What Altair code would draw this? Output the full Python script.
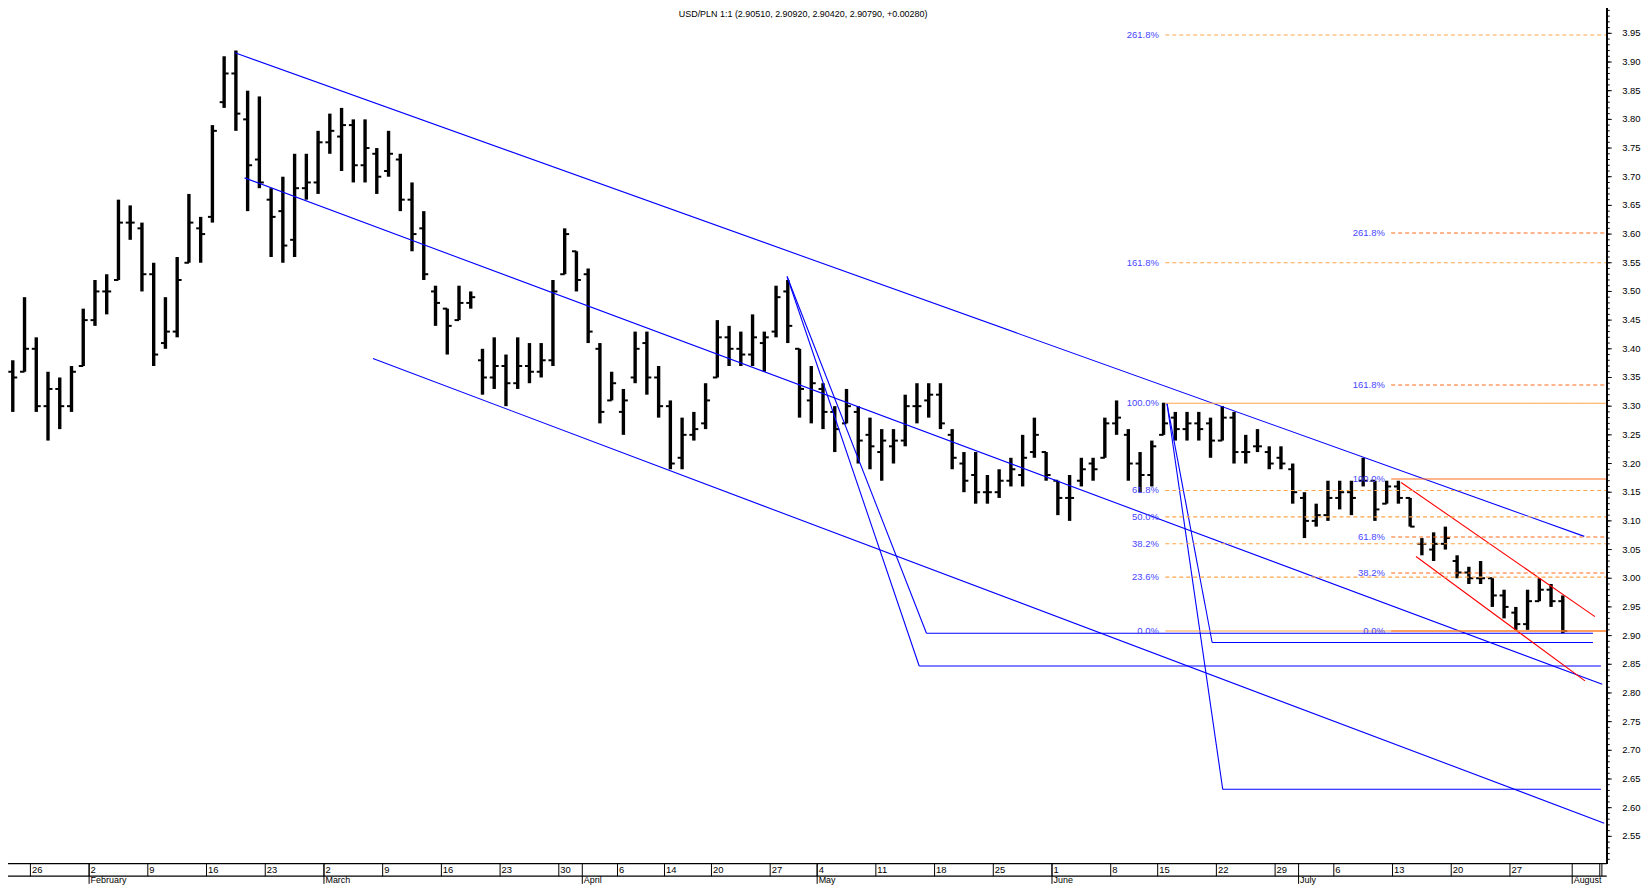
import altair as alt
import pandas as pd

# ---------------- data ----------------
# trading-day index (0 = 26 January), daily open/high/low/close of USD/PLN
day_index = list(range(-2, 131))
opens = [3.36, 3.36, 3.40, 3.30, 3.33, 3.30, 3.37, 3.45, 3.50, 3.52,
         3.62, 3.61, 3.53, 3.41, 3.43, 3.55, 3.61, 3.63, 3.83, 3.88,
         3.80, 3.73, 3.66, 3.64, 3.59, 3.68, 3.69, 3.76, 3.77, 3.79,
         3.72, 3.74, 3.71, 3.73, 3.66, 3.61, 3.50, 3.47, 3.45, 3.48,
         3.38, 3.35, 3.37, 3.34, 3.37, 3.36, 3.38, 3.53, 3.57, 3.53,
         3.40, 3.31, 3.29, 3.35, 3.41, 3.35, 3.30, 3.21, 3.25, 3.27,
         3.35, 3.42, 3.40, 3.39, 3.41, 3.43, 3.50, 3.40, 3.31, 3.33,
         3.29, 3.27, 3.29, 3.25, 3.22, 3.23, 3.24, 3.30, 3.31, 3.32,
         3.25, 3.20, 3.18, 3.15, 3.15, 3.17, 3.18, 3.22, 3.22, 3.17,
         3.14, 3.17, 3.20, 3.21, 3.27, 3.25, 3.20, 3.18, 3.25, 3.28,
         3.26, 3.27, 3.27, 3.24, 3.28, 3.22, 3.23, 3.22, 3.21, 3.19,
         3.14, 3.10, 3.11, 3.14, 3.15, 3.17, 3.17, 3.13, 3.16, 3.14,
         3.06, 3.05, 3.06, 3.03, 3.01, 3.00, 3.00, 2.97, 2.94, 2.92,
         2.96, 2.98, 2.96]
highs = [3.38, 3.49, 3.42, 3.36, 3.35, 3.37, 3.47, 3.52, 3.53, 3.66,
         3.65, 3.62, 3.55, 3.49, 3.56, 3.67, 3.63, 3.79, 3.91, 3.92,
         3.85, 3.84, 3.68, 3.70, 3.74, 3.74, 3.78, 3.81, 3.82, 3.80,
         3.80, 3.75, 3.78, 3.74, 3.69, 3.64, 3.51, 3.47, 3.51, 3.50,
         3.40, 3.42, 3.39, 3.42, 3.41, 3.41, 3.52, 3.61, 3.57, 3.54,
         3.41, 3.36, 3.33, 3.43, 3.43, 3.37, 3.31, 3.28, 3.29, 3.34,
         3.45, 3.44, 3.43, 3.46, 3.43, 3.51, 3.52, 3.40, 3.37, 3.34,
         3.30, 3.33, 3.30, 3.28, 3.26, 3.26, 3.32, 3.34, 3.34, 3.34,
         3.26, 3.22, 3.22, 3.18, 3.19, 3.21, 3.25, 3.28, 3.22, 3.17,
         3.18, 3.21, 3.21, 3.28, 3.31, 3.26, 3.22, 3.24, 3.306, 3.29,
         3.29, 3.29, 3.28, 3.30, 3.29, 3.25, 3.26, 3.23, 3.23, 3.20,
         3.15, 3.13, 3.17, 3.17, 3.17, 3.21, 3.17, 3.17, 3.17, 3.14,
         3.07, 3.08, 3.09, 3.04, 3.02, 3.03, 3.00, 2.98, 2.95, 2.98,
         3.00, 2.99, 2.97]
lows = [3.29, 3.36, 3.29, 3.24, 3.26, 3.29, 3.37, 3.44, 3.46, 3.52,
        3.59, 3.50, 3.37, 3.40, 3.42, 3.55, 3.55, 3.62, 3.82, 3.78,
        3.64, 3.68, 3.56, 3.55, 3.56, 3.66, 3.67, 3.74, 3.71, 3.69,
        3.69, 3.67, 3.70, 3.64, 3.57, 3.52, 3.44, 3.39, 3.45, 3.47,
        3.32, 3.33, 3.30, 3.33, 3.34, 3.35, 3.37, 3.53, 3.50, 3.41,
        3.27, 3.31, 3.25, 3.34, 3.32, 3.28, 3.19, 3.19, 3.24, 3.26,
        3.35, 3.37, 3.37, 3.37, 3.36, 3.42, 3.41, 3.28, 3.27, 3.26,
        3.22, 3.27, 3.20, 3.19, 3.17, 3.20, 3.23, 3.27, 3.28, 3.26,
        3.19, 3.15, 3.13, 3.13, 3.14, 3.16, 3.16, 3.21, 3.17, 3.11,
        3.10, 3.16, 3.17, 3.21, 3.25, 3.17, 3.15, 3.16, 3.25, 3.24,
        3.24, 3.24, 3.21, 3.24, 3.20, 3.20, 3.22, 3.19, 3.19, 3.13,
        3.07, 3.09, 3.10, 3.12, 3.11, 3.16, 3.10, 3.13, 3.13, 3.09,
        3.04, 3.03, 3.05, 3.00, 2.99, 2.99, 2.95, 2.93, 2.91, 2.91,
        2.96, 2.95, 2.904]
closes = [3.35, 3.40, 3.30, 3.33, 3.30, 3.36, 3.45, 3.50, 3.50, 3.62,
          3.62, 3.53, 3.39, 3.43, 3.52, 3.62, 3.60, 3.78, 3.88, 3.81,
          3.72, 3.69, 3.63, 3.58, 3.68, 3.69, 3.76, 3.78, 3.79, 3.72,
          3.75, 3.70, 3.74, 3.66, 3.60, 3.53, 3.48, 3.44, 3.48, 3.49,
          3.35, 3.37, 3.34, 3.37, 3.36, 3.38, 3.50, 3.60, 3.52, 3.43,
          3.29, 3.34, 3.31, 3.40, 3.35, 3.30, 3.20, 3.25, 3.26, 3.31,
          3.42, 3.40, 3.39, 3.42, 3.42, 3.49, 3.44, 3.33, 3.34, 3.29,
          3.26, 3.30, 3.24, 3.23, 3.24, 3.24, 3.30, 3.30, 3.32, 3.27,
          3.21, 3.17, 3.15, 3.15, 3.17, 3.19, 3.21, 3.25, 3.18, 3.14,
          3.14, 3.19, 3.19, 3.27, 3.28, 3.20, 3.18, 3.23, 3.27, 3.26,
          3.27, 3.26, 3.24, 3.28, 3.22, 3.22, 3.23, 3.20, 3.20, 3.15,
          3.10, 3.11, 3.14, 3.15, 3.14, 3.17, 3.12, 3.16, 3.14, 3.09,
          3.06, 3.06, 3.07, 3.01, 3.00, 3.00, 2.97, 2.95, 2.92, 2.96,
          2.98, 2.96, 2.908]

# trend lines drawn on the chart: (day index, price) vertices
blue_lines = [
    [(17.42, 3.916), (132.33, 3.073)],                    # upper channel
    [(18.24, 3.698), (133.86, 2.815)],                    # middle channel
    [(29.17, 3.383), (134.03, 2.573)],                    # lower channel
    [(64.44, 3.526), (76.31, 2.904), (133.07, 2.904)],    # projection from April high
    [(64.44, 3.526), (75.69, 2.847), (133.75, 2.847)],
    [(96.79, 3.305), (100.64, 2.888), (133.07, 2.888)],   # projection from June high
    [(96.79, 3.305), (101.54, 2.632), (133.75, 2.632)],
]
red_lines = [
    [(116.73, 3.167), (133.24, 2.933)],
    [(118.00, 3.038), (132.39, 2.821)],
]

# Fibonacci retracement / extension levels
fib_left_labels = ["261.8%", "161.8%", "100.0%", "61.8%", "50.0%", "38.2%", "23.6%", "0.0%"]
fib_left_values = [3.947, 3.550, 3.305, 3.153, 3.107, 3.060, 3.002, 2.908]
fib_left_start = 96.65
fib_right_labels = ["261.8%", "161.8%", "100.0%", "61.8%", "38.2%", "0.0%"]
fib_right_values = [3.602, 3.337, 3.173, 3.072, 3.009, 2.908]
fib_right_start = 115.89
axis_day = 134.25

# axis labels
price_labels = ["3.95", "3.90", "3.85", "3.80", "3.75", "3.70", "3.65", "3.60", "3.55",
                "3.50", "3.45", "3.40", "3.35", "3.30", "3.25", "3.20", "3.15", "3.10",
                "3.05", "3.00", "2.95", "2.90", "2.85", "2.80", "2.75", "2.70", "2.65",
                "2.60", "2.55"]
minor_ticks = [round(2.51 + 0.01 * i, 2) for i in range(149)]
day_tick_pos = [0, 5, 10, 15, 20, 25, 30, 35, 40, 45, 50, 54, 58, 63, 67, 72, 77, 82,
                87, 92, 96, 101, 106, 111, 116, 121, 126, 133.65, 133.83]
day_tick_lab = ["26", "2", "9", "16", "23", "2", "9", "16", "23", "30", "6", "14", "20",
                "27", "4", "11", "18", "25", "1", "8", "15", "22", "29", "6", "13", "20",
                "27", "", ""]
month_pos = [5, 25, 47, 67, 87, 108, 131.3]
month_lab = ["February", "March", "April", "May", "June", "July", "August"]
title_text = "USD/PLN 1:1 (2.90510, 2.90920, 2.90420, 2.90790, +0.00280)"

# ---------------- layout ----------------
W, H = 1642, 878
T0, T1 = -1.9068, 137.245
V_TOP, V_BOT = 3.99042, 2.46718
AX_X = 1606.6      # right price axis (plot px)
BOT_Y = 857.6      # bottom frame line
ROW_Y = 870.3      # line under day numbers
FONT = "Liberation Sans"

xs = alt.Scale(domain=[T0, T1], nice=False, zero=False)
ys = alt.Scale(domain=[V_BOT, V_TOP], nice=False, zero=False)

bars = pd.DataFrame({"t": day_index, "o": opens, "h": highs, "l": lows, "c": closes})

base_bars = alt.Chart(bars).transform_calculate(
    xm="datum.t + 0.5", xl="datum.t + 0.12", xr="datum.t + 0.88")
hl = base_bars.mark_rule(color="black", strokeWidth=3.4).encode(
    x=alt.X("xm:Q", scale=xs, axis=None),
    y=alt.Y("l:Q", scale=ys, axis=None), y2="h:Q")
op = base_bars.mark_rule(color="black", strokeWidth=2).encode(
    x=alt.X("xl:Q", scale=xs, axis=None), x2="xm:Q",
    y=alt.Y("o:Q", scale=ys, axis=None))
cl = base_bars.mark_rule(color="black", strokeWidth=2).encode(
    x=alt.X("xm:Q", scale=xs, axis=None), x2="xr:Q",
    y=alt.Y("c:Q", scale=ys, axis=None))

seg_rows = []
for col, lines in (("#0000FF", blue_lines), ("#FF0000", red_lines)):
    for pts in lines:
        for (a, b), (c, d) in zip(pts[:-1], pts[1:]):
            seg_rows.append({"t1": a, "v1": b, "t2": c, "v2": d, "col": col})
segs = alt.Chart(pd.DataFrame(seg_rows)).mark_rule(strokeWidth=1.1).encode(
    x=alt.X("t1:Q", scale=xs, axis=None), x2="t2:Q",
    y=alt.Y("v1:Q", scale=ys, axis=None), y2="v2:Q",
    color=alt.Color("col:N", scale=None))

fib_rows = []
for lab, val in zip(fib_left_labels, fib_left_values):
    fib_rows.append({"lab": lab, "v": val, "ts": fib_left_start, "te": axis_day,
                     "tl": fib_left_start - 0.55, "col": "#FFA54A",
                     "dash": "solid" if lab in ("100.0%", "0.0%") else "dashed"})
for lab, val in zip(fib_right_labels, fib_right_values):
    fib_rows.append({"lab": lab, "v": val, "ts": fib_right_start, "te": axis_day,
                     "tl": fib_right_start - 0.55, "col": "#FF6A1A",
                     "dash": "solid" if lab in ("100.0%", "0.0%") else "dashed"})
fib = pd.DataFrame(fib_rows)
fib_lines = alt.Chart(fib).mark_rule(strokeWidth=1.1).encode(
    x=alt.X("ts:Q", scale=xs, axis=None), x2="te:Q",
    y=alt.Y("v:Q", scale=ys, axis=None),
    color=alt.Color("col:N", scale=None),
    strokeDash=alt.StrokeDash("dash:N", scale=alt.Scale(domain=["solid", "dashed"],
                                                        range=[[1, 0], [4, 3]]), legend=None))
fib_text = alt.Chart(fib).mark_text(align="right", baseline="middle", font=FONT,
                                    fontSize=9.5, color="#4646FF").encode(
    x=alt.X("tl:Q", scale=xs, axis=None), y=alt.Y("v:Q", scale=ys, axis=None), text="lab:N")

# right price axis
price_vals = [float(s) for s in price_labels]
major = pd.DataFrame({"v": price_vals, "lab": price_labels})
minor = pd.DataFrame({"v": minor_ticks})
axis_line = alt.Chart(major).mark_rule(color="black", strokeWidth=1.3).encode(
    x=alt.value(AX_X), y=alt.value(-8), y2=alt.value(BOT_Y))
major_ticks = alt.Chart(major).mark_rule(color="black", strokeWidth=1).encode(
    x=alt.value(AX_X), x2=alt.value(AX_X + 5), y=alt.Y("v:Q", scale=ys, axis=None))
minor_t = alt.Chart(minor).mark_rule(color="black", strokeWidth=1).encode(
    x=alt.value(AX_X), x2=alt.value(AX_X + 3), y=alt.Y("v:Q", scale=ys, axis=None))
price_text = alt.Chart(major).mark_text(align="left", baseline="middle", font=FONT,
                                        fontSize=9.5, color="#000000").encode(
    x=alt.value(AX_X + 15.5), y=alt.Y("v:Q", scale=ys, axis=None), text="lab:N")

# bottom date axis
frame = pd.DataFrame({"y": [BOT_Y, ROW_Y]})
frame_lines = alt.Chart(frame).mark_rule(color="black", strokeWidth=1.3).encode(
    x=alt.value(-8), x2=alt.value(AX_X), y=alt.Y("y:Q", scale=None))
days = pd.DataFrame({"t": day_tick_pos, "lab": day_tick_lab})
day_lines = alt.Chart(days).mark_rule(color="black", strokeWidth=1).encode(
    x=alt.X("t:Q", scale=xs, axis=None), y=alt.value(BOT_Y), y2=alt.value(ROW_Y))
day_text = alt.Chart(days).mark_text(align="left", baseline="middle", font=FONT,
                                     fontSize=9.5, dx=1.5, color="black").encode(
    x=alt.X("t:Q", scale=xs, axis=None), y=alt.value((BOT_Y + ROW_Y) / 2 + 0.5), text="lab:N")
months = pd.DataFrame({"t": month_pos, "lab": month_lab})
month_lines = alt.Chart(months).mark_rule(color="black", strokeWidth=1).encode(
    x=alt.X("t:Q", scale=xs, axis=None), y=alt.value(BOT_Y), y2=alt.value(H))
month_text = alt.Chart(months).mark_text(align="left", baseline="top", font=FONT,
                                         fontSize=9, dx=1.5, color="black").encode(
    x=alt.X("t:Q", scale=xs, axis=None), y=alt.value(ROW_Y + 0.2), text="lab:N")

title = alt.Chart(pd.DataFrame({"s": [title_text]})).mark_text(
    align="center", baseline="top", font=FONT, fontSize=9, color="black").encode(
    x=alt.value(799), y=alt.value(0), text="s:N")

chart = alt.layer(
    hl, op, cl, segs, fib_lines, fib_text,
    axis_line, minor_t, major_ticks, price_text,
    frame_lines, day_lines, month_lines, day_text, month_text, title,
).properties(
    width=W, height=H, padding=0, autosize=alt.AutoSizeParams(type="none"),
    background="white",
).configure_view(stroke=None)

chart.save("out.html", embed_options={"renderer": "svg", "actions": False})
